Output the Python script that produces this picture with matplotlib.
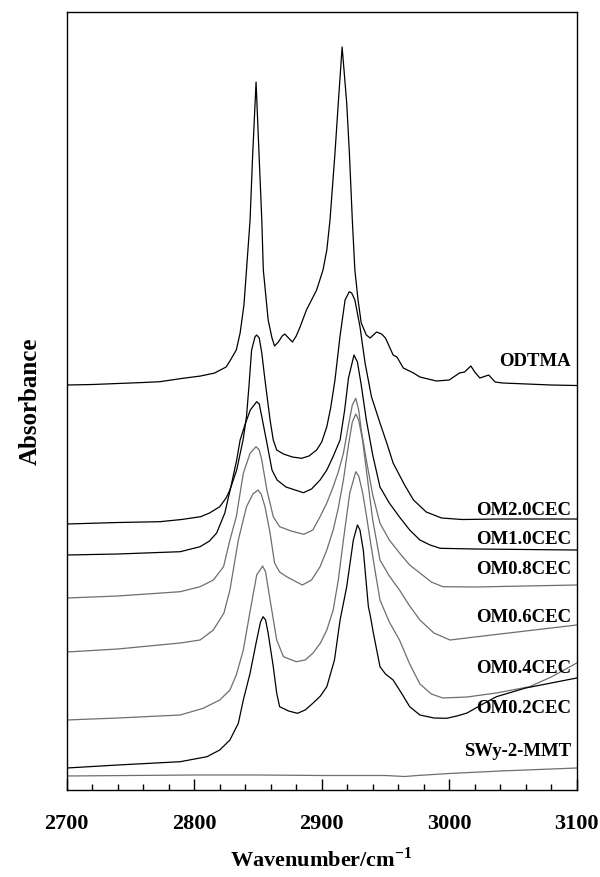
import numpy as np
import matplotlib.pyplot as plt
from matplotlib.ticker import MultipleLocator

plt.rcParams["font.family"] = ["Liberation Serif", "DejaVu Serif"]
plt.rcParams["font.weight"] = "bold"
plt.rcParams["mathtext.fontset"] = "custom"
plt.rcParams["mathtext.rm"] = "Liberation Serif:bold"
plt.rcParams["mathtext.bf"] = "Liberation Serif:bold"

# stacked FTIR spectra in the C-H stretching region (offset absorbance)
odtma_wn = [2700, 2720, 2740, 2760, 2773, 2790, 2805, 2816, 2825, 2828, 2833, 2836,
            2839, 2841, 2843.8, 2845.9, 2848.5, 2850.8, 2853, 2854.2, 2858, 2861, 2863,
            2866, 2869, 2871, 2874, 2877, 2880, 2883, 2888, 2896, 2901, 2904, 2906.5,
            2910.4, 2913, 2916, 2919.6, 2921.7, 2924, 2926, 2928.5, 2931, 2935, 2938,
            2943, 2947, 2950, 2956, 2959, 2964, 2972, 2977, 2990, 3000, 3008, 3012,
            3017, 3020, 3024, 3031, 3036, 3042, 3061, 3080, 3100]
odtma_abs = [4.05, 4.055, 4.065, 4.075, 4.083, 4.115, 4.14, 4.17, 4.23, 4.29, 4.40, 4.57,
             4.85, 5.20, 5.70, 6.37, 7.08, 6.37, 5.70, 5.20, 4.70, 4.52, 4.44,
             4.48, 4.54, 4.56, 4.52, 4.48, 4.54, 4.63, 4.80, 5.00, 5.20, 5.40, 5.70,
             6.37, 6.87, 7.43, 6.87, 6.37, 5.70, 5.20, 4.90, 4.67, 4.55, 4.52,
             4.58, 4.56, 4.52, 4.35, 4.33, 4.22, 4.17, 4.13, 4.09, 4.10, 4.17, 4.18,
             4.24, 4.18, 4.12, 4.15, 4.08, 4.07, 4.06, 4.05, 4.045]

om20_wn = [2700, 2740, 2773, 2790, 2805, 2812, 2820, 2825, 2828, 2833.3, 2838.3, 2841,
           2843, 2845, 2847.7, 2849, 2851, 2853, 2855.5, 2859.5, 2862, 2864.7, 2870,
           2877, 2884.3, 2890, 2896, 2900, 2904, 2907, 2910.4, 2914.3, 2918.3, 2921.6,
           2923.5, 2926, 2930, 2934, 2939, 2945.7, 2951, 2956, 2965, 2972, 2982, 2994,
           3010, 3040, 3070, 3100]
om20_abs = [2.66, 2.675, 2.683, 2.705, 2.733, 2.77, 2.833, 2.92, 3.00, 3.20, 3.50, 3.733,
            4.05, 4.40, 4.533, 4.55, 4.52, 4.37, 4.10, 3.70, 3.50, 3.40, 3.36,
            3.33, 3.317, 3.34, 3.40, 3.48, 3.633, 3.82, 4.10, 4.533, 4.90, 4.983,
            4.97, 4.90, 4.633, 4.27, 3.933, 3.67, 3.47, 3.27, 3.05, 2.90, 2.78, 2.72,
            2.705, 2.71, 2.71, 2.71]

om10_wn = [2700, 2740, 2789, 2804.6, 2812, 2817.6, 2824, 2829.4, 2833.3, 2836, 2840,
           2844, 2849, 2851, 2853, 2857, 2861, 2865, 2872, 2885.6, 2892, 2898.7, 2904,
           2908.9, 2914.4, 2918, 2921, 2925.3, 2928, 2931, 2935, 2940, 2945.7, 2953,
           2961, 2969, 2977, 2985, 2993, 3020, 3060, 3100]
om10_abs = [2.35, 2.36, 2.383, 2.433, 2.49, 2.57, 2.77, 3.07, 3.30, 3.50, 3.66,
            3.80, 3.883, 3.86, 3.733, 3.47, 3.20, 3.10, 3.03, 2.973, 3.01, 3.10, 3.20,
            3.333, 3.50, 3.80, 4.12, 4.35, 4.28, 4.05, 3.70, 3.35, 3.03, 2.87,
            2.73, 2.60, 2.50, 2.45, 2.417, 2.41, 2.405, 2.40]

om08_wn = [2700, 2740, 2789, 2804.6, 2815, 2823, 2828, 2833, 2838.5, 2843.8, 2848.5,
           2851, 2853, 2857, 2862, 2867, 2876, 2886, 2893, 2898.7, 2904, 2909, 2913,
           2917, 2921, 2924, 2926.7, 2929, 2931, 2935, 2940, 2945.7, 2953, 2961, 2969,
           2977, 2986, 2995, 3020, 3060, 3100]
om08_abs = [1.92, 1.94, 1.983, 2.033, 2.10, 2.233, 2.50, 2.733, 3.167, 3.367, 3.433,
            3.40, 3.30, 3.00, 2.733, 2.633, 2.59, 2.557, 2.60, 2.733, 2.87, 3.033, 3.18,
            3.367, 3.65, 3.85, 3.917, 3.80, 3.60, 3.30, 2.95, 2.667, 2.50, 2.37, 2.25,
            2.17, 2.08, 2.033, 2.03, 2.04, 2.05]

om06_wn = [2700, 2740, 2789, 2804.6, 2815, 2823.3, 2828, 2834.6, 2841, 2846, 2850,
           2852.5, 2855.5, 2859.5, 2863, 2867, 2872.5, 2884.8, 2892, 2898.7, 2904,
           2909, 2913, 2917, 2921, 2924, 2926.7, 2929, 2932, 2935, 2940, 2945.7, 2953,
           2961, 2969, 2977, 2988, 3000.6, 3020, 3040, 3060, 3080, 3100]
om06_abs = [1.38, 1.41, 1.47, 1.50, 1.60, 1.77, 2.00, 2.50, 2.833, 2.96, 3.00,
            2.96, 2.833, 2.57, 2.27, 2.18, 2.133, 2.05, 2.10, 2.233, 2.40,
            2.60, 2.82, 3.10, 3.45, 3.68, 3.76, 3.70, 3.50, 3.20, 2.70, 2.30, 2.14,
            2.00, 1.84, 1.70, 1.57, 1.50, 1.53, 1.56, 1.59, 1.62, 1.65]

om04_wn = [2700, 2740, 2789, 2807, 2820, 2828, 2833, 2838.5, 2844, 2849, 2853.7, 2856,
           2859.5, 2864.7, 2870, 2880, 2887, 2893, 2899, 2904, 2909, 2913, 2917, 2922,
           2926.7, 2929, 2932, 2935, 2938, 2942, 2945.7, 2953, 2961, 2969, 2977, 2986,
           2995, 3014, 3037, 3063, 3080, 3100]
om04_abs = [0.70, 0.72, 0.75, 0.817, 0.90, 1.00, 1.15, 1.40, 1.80, 2.15, 2.24, 2.18,
            1.90, 1.50, 1.333, 1.283, 1.30, 1.367, 1.47, 1.60, 1.80, 2.10, 2.50, 2.97,
            3.183, 3.14, 2.98, 2.75, 2.50, 2.18, 1.90, 1.68, 1.50, 1.26, 1.06, 0.96,
            0.92, 0.93, 0.97, 1.033, 1.13, 1.27]

om02_wn = [2700, 2740, 2789, 2810, 2820, 2828, 2834.6, 2838.5, 2843.8, 2849, 2852, 2854,
           2856, 2858, 2862, 2864.7, 2867, 2874, 2881, 2887, 2893, 2899, 2904, 2910,
           2914.4, 2919.6, 2924.8, 2928, 2930, 2932.6, 2936.6, 2938, 2940.5, 2945.7,
           2950, 2956, 2962, 2969, 2977, 2988, 2998, 3006, 3014, 3025, 3037, 3060,
           3080, 3100]
om02_abs = [0.22, 0.25, 0.283, 0.333, 0.40, 0.50, 0.667, 0.90, 1.167, 1.50, 1.68, 1.733,
            1.70, 1.567, 1.233, 0.967, 0.833, 0.79, 0.767, 0.80, 0.867, 0.94, 1.033, 1.30,
            1.70, 2.033, 2.50, 2.65, 2.60, 2.40, 1.833, 1.75, 1.57, 1.233,
            1.16, 1.10, 0.98, 0.833, 0.75, 0.72, 0.717, 0.74, 0.77, 0.85, 0.933, 1.02,
            1.07, 1.12]

swy_wn = [2700, 2750, 2800, 2850, 2900, 2950, 2965, 2975, 3000, 3040, 3070, 3100]
swy_abs = [0.14, 0.145, 0.15, 0.15, 0.145, 0.145, 0.135, 0.145, 0.165, 0.19, 0.205, 0.22]

names = ["ODTMA", "OM2.0CEC", "OM1.0CEC", "OM0.8CEC", "OM0.6CEC",
         "OM0.4CEC", "OM0.2CEC", "SWy-2-MMT"]
label_y = [4.29, 2.80, 2.51, 2.21, 1.73, 1.22, 0.82, 0.39]

spectra = [(odtma_wn, odtma_abs), (om20_wn, om20_abs), (om10_wn, om10_abs),
           (om08_wn, om08_abs), (om06_wn, om06_abs), (om04_wn, om04_abs),
           (om02_wn, om02_abs), (swy_wn, swy_abs)]
colors = ["black", "black", "black", "#6e6e6e", "#6e6e6e", "#6e6e6e", "black", "#6e6e6e"]

fig = plt.figure(figsize=(6, 8.77), dpi=100)
ax = fig.add_axes([0.1112, 0.0992, 0.85, 0.8871])

for (wn, ab), c in zip(spectra, colors):
    ax.plot(wn, ab, color=c, lw=0.9)

for name, y in zip(names, label_y):
    ax.text(3095.5, y, name, ha="right", va="center", fontsize=13.5, fontweight="bold")

ax.set_xlim(2700, 3100)
ax.set_ylim(0, 7.78)
ax.xaxis.set_major_locator(MultipleLocator(100))
ax.xaxis.set_minor_locator(MultipleLocator(20))
ax.tick_params(axis="x", which="major", direction="in", length=8, width=1,
               labelsize=16, pad=17)
ax.tick_params(axis="x", which="minor", direction="in", length=4, width=1)
ax.set_yticks([])
for lab in ax.get_xticklabels():
    lab.set_fontweight("bold")
for sp in ax.spines.values():
    sp.set_linewidth(1)

ax.set_xlabel("Wavenumber/cm$^{\\mathregular{-1}}$", fontsize=16, fontweight="bold", labelpad=10)
ax.set_ylabel("Absorbance", fontsize=18, fontweight="bold", labelpad=18)

plt.savefig("out.png", dpi=100)
